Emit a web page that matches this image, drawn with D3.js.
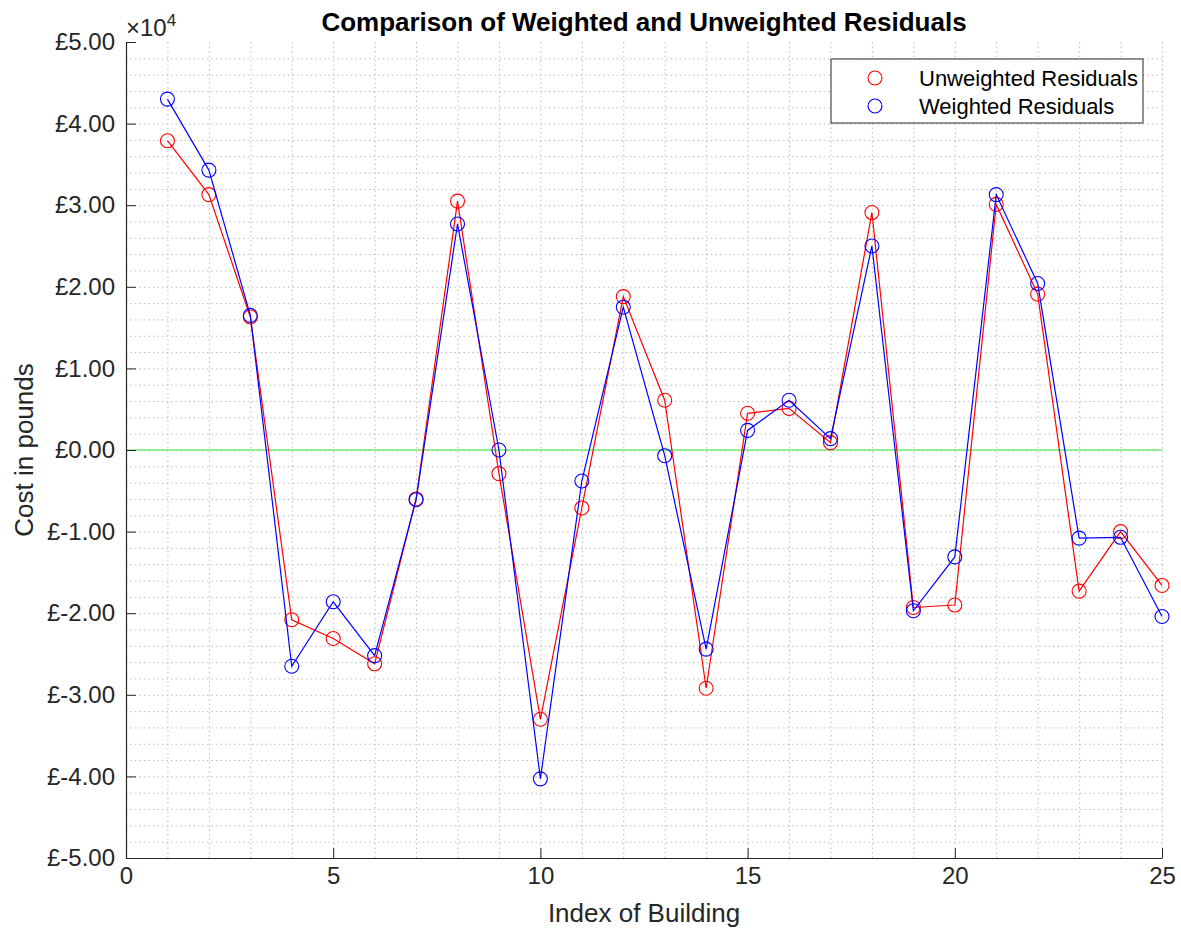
<!DOCTYPE html>
<html>
<head>
<meta charset="utf-8">
<script src="https://cdn.jsdelivr.net/npm/d3@7"></script>
<style>
  body { margin: 0; background: #fff; }
  svg { font-family: "Liberation Sans", Arial, Helvetica, sans-serif; }
  .axis path, .axis line { stroke: #262626; }
  .axis text { fill: #262626; font-size: 24px; }
  .grid line { stroke: #bdbdbd; stroke-dasharray: 1.5, 3; }
  .grid path { stroke: none; }
</style>
</head>
<body>
<svg id="chart" width="1181" height="930"></svg>
<script>
// building index
var buildings = d3.range(1, 26);

// residuals in units of 10^4 pounds
var unweighted = [3.79, 3.13, 1.63, -2.08, -2.31, -2.62, -0.60, 3.05, -0.29, -3.30,
                  -0.71, 1.88, 0.61, -2.92, 0.45, 0.51, 0.09, 2.91, -1.93, -1.90,
                  3.01, 1.91, -1.73, -1.00, -1.66];
var weighted   = [4.30, 3.43, 1.65, -2.65, -1.86, -2.52, -0.61, 2.77, 0.00, -4.03,
                  -0.38, 1.75, -0.07, -2.44, 0.24, 0.61, 0.14, 2.50, -1.97, -1.31,
                  3.13, 2.04, -1.08, -1.07, -2.04];

var xTicks = [0, 5, 10, 15, 20, 25],
    yTicks = [-5, -4, -3, -2, -1, 0, 1, 2, 3, 4, 5];

var svg = d3.select("#chart"),
    margin = {top: 42, right: 19, bottom: 72, left: 126},
    width = +svg.attr("width") - margin.left - margin.right,
    height = +svg.attr("height") - margin.top - margin.bottom,
    g = svg.append("g").attr("transform", "translate(" + margin.left + "," + margin.top + ")");

var x = d3.scaleLinear().domain([0, 25]).range([0, width]);
var y = d3.scaleLinear().domain([-5, 5]).range([height, 0]);

// dotted grid, minor and major
g.append("g")
    .attr("class", "grid")
    .call(d3.axisLeft(y).tickValues(d3.range(-48, 50, 2).map(function(d) { return d / 10; }))
      .tickSize(-width).tickFormat(""));

g.append("g")
    .attr("class", "grid")
    .attr("transform", "translate(0," + height + ")")
    .call(d3.axisBottom(x).tickValues(d3.range(1, 26)).tickSize(-height).tickFormat(""));

// zero line
g.append("line")
    .attr("x1", 0).attr("x2", width)
    .attr("y1", y(0)).attr("y2", y(0))
    .attr("stroke", "#33e633")
    .attr("stroke-width", 1.2);

// axes
g.append("g")
    .attr("class", "axis axis--x")
    .attr("transform", "translate(0," + height + ")")
    .call(d3.axisBottom(x).tickValues(xTicks).tickSizeInner(-10).tickSizeOuter(0).tickPadding(9))
    .call(function(s) { s.select(".domain").attr("stroke-width", 1.2); });

g.append("g")
    .attr("class", "axis axis--y")
    .call(d3.axisLeft(y).tickValues(yTicks).tickSizeInner(-10).tickSizeOuter(0).tickPadding(11)
      .tickFormat(function(d) { return "£" + d.toFixed(2); }))
    .call(function(s) { s.select(".domain").attr("stroke-width", 1.2); });

// exponent label
var expo = svg.append("text")
    .attr("x", margin.left)
    .attr("y", 36)
    .attr("fill", "#262626")
    .style("font-size", "24px");
expo.append("tspan").text("\u00d710");
expo.append("tspan").attr("dy", -10).style("font-size", "17px").text("4");

var line = d3.line()
    .x(function(d, i) { return x(buildings[i]); })
    .y(function(d) { return y(d); });

var series = [
  {name: "Unweighted Residuals", values: unweighted, color: "#ff0000"},
  {name: "Weighted Residuals", values: weighted, color: "#0000ff"}
];

series.forEach(function(s) {
  g.append("path")
      .datum(s.values)
      .attr("fill", "none")
      .attr("stroke", s.color)
      .attr("stroke-width", 1.2)
      .attr("d", line);

  g.selectAll(null)
      .data(s.values)
    .enter().append("circle")
      .attr("cx", function(d, i) { return x(buildings[i]); })
      .attr("cy", function(d) { return y(d); })
      .attr("r", 7)
      .attr("fill", "none")
      .attr("stroke", s.color)
      .attr("stroke-width", 1.1);
});

// title and labels
svg.append("text")
    .attr("x", margin.left + width / 2)
    .attr("y", 31)
    .attr("text-anchor", "middle")
    .attr("fill", "#000")
    .style("font-size", "26px")
    .style("font-weight", "bold")
    .text("Comparison of Weighted and Unweighted Residuals");

svg.append("text")
    .attr("x", margin.left + width / 2)
    .attr("y", 922)
    .attr("text-anchor", "middle")
    .attr("fill", "#262626")
    .style("font-size", "26px")
    .text("Index of Building");

svg.append("text")
    .attr("transform", "translate(33," + (margin.top + height / 2) + ") rotate(-90)")
    .attr("text-anchor", "middle")
    .attr("fill", "#262626")
    .style("font-size", "26px")
    .text("Cost in pounds");

// legend
var legend = svg.append("g").attr("transform", "translate(831,59)");
legend.append("rect")
    .attr("width", 312).attr("height", 64)
    .attr("fill", "#fff")
    .attr("stroke", "#262626")
    .attr("stroke-width", 1);

series.forEach(function(s, i) {
  legend.append("circle")
      .attr("cx", 44).attr("cy", 19 + i * 28)
      .attr("r", 7)
      .attr("fill", "none")
      .attr("stroke", s.color)
      .attr("stroke-width", 1.1);
  legend.append("text")
      .attr("x", 88).attr("y", 19 + i * 28)
      .attr("dy", "0.35em")
      .attr("fill", "#000")
      .style("font-size", "22px")
      .text(s.name);
});
</script>
</body>
</html>
